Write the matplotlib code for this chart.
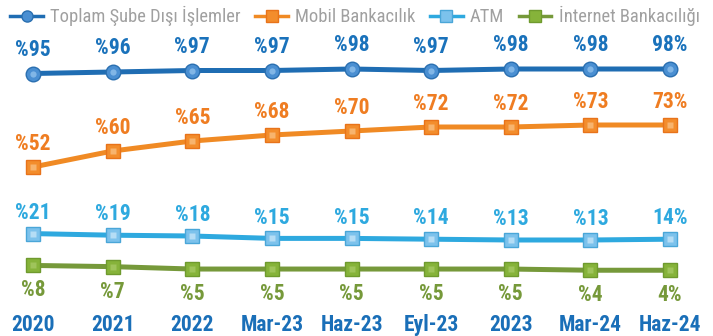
import matplotlib
matplotlib.use("Agg")
import matplotlib.pyplot as plt
from matplotlib.lines import Line2D

periods = ["2020", "2021", "2022", "Mar-23", "Haz-23", "Eyl-23", "2023", "Mar-24", "Haz-24"]
sube_disi = [95, 96, 97, 97, 98, 97, 98, 98, 98]
mobil = [52, 60, 65, 68, 70, 72, 72, 73, 73]
atm = [21, 19, 18, 15, 15, 14, 13, 13, 14]
internet = [8, 7, 5, 5, 5, 5, 5, 4, 4]

names = ["Toplam Şube Dışı İşlemler", "Mobil Bankacılık", "ATM", "İnternet Bankacılığı"]

plt.rcParams["font.family"] = ["Roboto Condensed", "Barlow Condensed", "DejaVu Sans"]

# line color, marker edge/face/shine, marker, label color, label offset (pt), y band
series = [
    (sube_disi, "#1f6db3", "#2a6fb0", "#4a8fd2", "#8fc0ec", "o", "#1a72bb", 17, (-80.0, 144.0)),
    (mobil, "#f08a24", "#e8731a", "#f38d2c", "#f9bf80", "s", "#ef7d22", 16.5, (-32.5, 135.5)),
    (atm, "#2ea9df", "#4aa6d8", "#7cc2ec", "#c4e5f8", "s", "#2ea9df", 15, (-107.0, 313.0)),
    (internet, "#76993a", "#6f9a2e", "#86b33a", "#a6c964", "s", "#76993a", -18, (-50.8, 229.2)),
]

fig = plt.figure(figsize=(7.13, 3.36), dpi=100)
x = list(range(len(periods)))

base = None
for vals, col, edge, face, shine, mk, tcol, off, ylim in series:
    ax = fig.add_axes([0, 0, 1, 1], sharex=base)
    if base is None:
        base = ax
    ax.patch.set_visible(False)
    ax.set_xlim(-0.415, 8.54)
    ax.set_ylim(*ylim)
    ax.axis("off")
    ax.plot(x, vals, color=col, lw=3.6, solid_capstyle="round", zorder=2)
    ax.plot(x, vals, ls="none", marker=mk, ms=10.5, mfc=face, mec=edge, mew=1.0, zorder=3)
    ax.plot(x, vals, ls="none", marker=mk, ms=4.5, mfc=shine, mec="none", alpha=0.8, zorder=4)
    for j, v in enumerate(vals):
        txt = f"{v}%" if j == len(vals) - 1 else f"%{v}"
        ax.annotate(txt, (j, v), xytext=(0, off), textcoords="offset points",
                    ha="center", va="center", fontsize=15.5, fontweight="bold", color=tcol)

# period labels along the bottom
for j, p in enumerate(periods):
    base.annotate(p, (j, 0), xycoords=("data", "figure fraction"), xytext=(0, 8),
                  textcoords="offset points", ha="center", va="center",
                  fontsize=15.5, fontweight="bold", color="#1a6fb8")

handles = [Line2D([], [], color=s[1], lw=2.5, marker=s[5], ms=8, mfc=s[3], mec=s[2])
           for s in series]
fig.legend(handles, names, loc="center", bbox_to_anchor=(0.498, 0.952), ncol=4,
           frameon=False, fontsize=13.3, labelcolor="#a0a0a0", handlelength=1.75,
           handletextpad=0.4, columnspacing=0.8, borderpad=0, borderaxespad=0)

fig.savefig("out.png", dpi=100)
